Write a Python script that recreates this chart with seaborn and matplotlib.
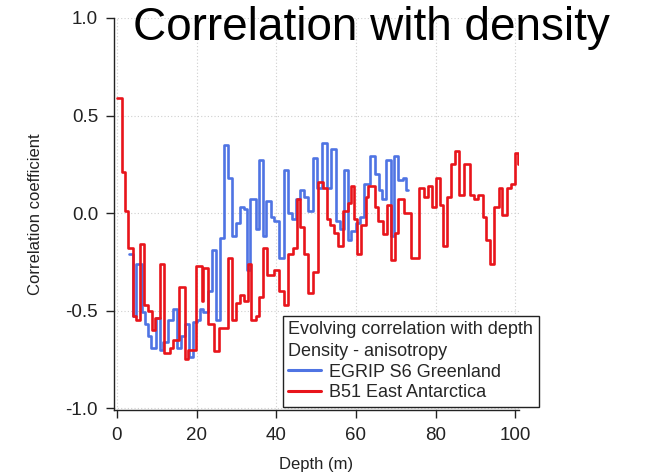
import numpy as np
import pandas as pd
import matplotlib
matplotlib.use("Agg")
import matplotlib.pyplot as plt
import seaborn as sns

# ---- data ----
egrip_depth = [3.1, 4.1, 4.9, 6.2, 7.0, 7.9, 8.7, 9.9, 10.8, 11.6, 12.9, 14.1, 15.0, 16.2,
               17.0, 18.1, 19.0, 20.0, 20.8, 21.6, 22.9, 23.9, 24.9, 26.0, 26.8, 28.0,
               28.9, 29.8, 30.8, 31.9, 32.6, 33.4, 34.9, 35.7, 36.8, 37.5, 38.7, 39.5,
               40.8, 41.9, 43.0, 43.9, 44.9, 45.9, 47.0, 48.0, 49.1, 50.2, 51.6, 52.8,
               53.8, 54.9, 55.9, 56.9, 58.0, 58.8, 60.1, 60.9, 61.9, 63.4, 64.7, 65.7,
               66.6, 67.6, 68.7, 69.6, 70.6, 71.8, 72.6, 73.0]
egrip_corr = [-0.21, -0.53, -0.26, -0.51, -0.57, -0.63, -0.69, -0.54, -0.70, -0.66, -0.55,
              -0.49, -0.69, -0.63, -0.57, -0.74, -0.56, -0.55, -0.49, -0.51, -0.40, -0.19,
              -0.55, -0.13, 0.35, 0.18, -0.12, -0.05, 0.03, 0.02, -0.29, 0.07, -0.08,
              0.27, -0.12, 0.06, -0.02, -0.04, -0.23, 0.22, 0.00, -0.03, 0.07, 0.12, 0.08,
              0.01, 0.28, 0.13, 0.36, 0.13, 0.33, -0.04, -0.08, 0.22, -0.14, -0.09, -0.05,
              -0.02, 0.15, 0.29, 0.20, 0.12, 0.07, 0.27, -0.12, 0.29, 0.17, 0.18, 0.12, 0.12]

b51_depth = [0.0, 1.3, 2.0, 2.8, 4.0, 4.8, 5.9, 6.9, 7.8, 8.9, 9.7, 10.8, 11.8, 13.4, 14.0,
             15.7, 17.1, 17.9, 19.8, 21.3, 21.7, 22.8, 24.3, 25.6, 27.9, 29.0, 29.8, 30.8,
             31.9, 32.8, 33.6, 34.9, 35.7, 36.7, 37.6, 39.5, 40.8, 41.9, 43.0, 44.1, 45.2,
             46.0, 47.0, 48.0, 49.1, 50.4, 51.8, 52.7, 53.6, 54.5, 55.4, 56.7, 57.9, 58.7,
             59.4, 60.2, 61.3, 62.4, 63.1, 64.8, 65.6, 66.7, 67.7, 68.8, 69.9, 70.6, 72.1,
             73.7, 75.8, 77.1, 78.0, 79.1, 80.0, 81.0, 81.8, 82.9, 83.8, 84.8, 85.8, 87.2,
             88.5, 89.5, 90.6, 91.8, 92.7, 93.6, 94.7, 95.8, 96.7, 97.9, 98.9, 99.8, 100.6,
             101.1]
b51_corr = [0.59, 0.21, 0.01, -0.18, -0.53, -0.55, -0.16, -0.47, -0.50, -0.60, -0.54, -0.26,
            -0.72, -0.69, -0.65, -0.38, -0.75, -0.70, -0.27, -0.45, -0.28, -0.57, -0.71,
            -0.59, -0.23, -0.55, -0.46, -0.42, -0.45, -0.26, -0.55, -0.53, -0.43, -0.18,
            -0.32, -0.29, -0.40, -0.47, -0.21, -0.18, 0.07, -0.07, -0.21, -0.41, -0.30,
            0.16, 0.13, -0.03, -0.06, -0.10, -0.17, 0.01, 0.05, 0.14, -0.03, -0.21, -0.06,
            0.08, 0.14, 0.03, -0.04, -0.11, 0.04, -0.24, -0.10, 0.07, 0.00, -0.23, 0.13,
            0.08, 0.14, 0.03, 0.18, 0.04, -0.17, 0.08, 0.25, 0.32, 0.09, 0.25, 0.09, 0.07,
            0.09, -0.02, -0.14, -0.26, 0.03, 0.13, -0.01, 0.13, 0.15, 0.31, 0.25, 0.25]

series_names = ["EGRIP S6 Greenland", "B51 East Antarctica"]
series_colors = ["#4f74e3", "#e8141b"]
x_ticks = [0, 20, 40, 60, 80, 100]
y_ticks = [-1.0, -0.5, 0.0, 0.5, 1.0]
y_tick_labels = ["-1.0", "-0.5", "0.0", "0.5", "1.0"]

df = pd.concat([
    pd.DataFrame({"depth": egrip_depth, "corr": egrip_corr, "core": series_names[0]}),
    pd.DataFrame({"depth": b51_depth, "corr": b51_corr, "core": series_names[1]}),
], ignore_index=True)

sns.set_theme(style="white")
plt.rcParams["font.family"] = ["Liberation Sans", "DejaVu Sans"]

fig = plt.figure(figsize=(6.46, 4.72), dpi=100)
ax = fig.add_axes([114 / 646, 1 - 410 / 472, (519 - 114) / 646, (410 - 18) / 472])

sns.lineplot(data=df, x="depth", y="corr", hue="core", hue_order=series_names,
             palette=dict(zip(series_names, series_colors)), estimator=None,
             drawstyle="steps-post", linewidth=1.9, legend=False, ax=ax, sort=False)

ax.set_xlim(-0.7, 100.9)
ax.set_ylim(-1.01, 1.0)
ax.set_xticks(x_ticks)
ax.set_yticks(y_ticks)
ax.set_yticklabels(y_tick_labels)
ax.grid(True, color="#cfcfcf", linestyle=(0, (1, 2)), linewidth=0.8)
for s in ["top", "right"]:
    ax.spines[s].set_visible(False)
for s in ["left", "bottom"]:
    ax.spines[s].set_color("#222222")
    ax.spines[s].set_linewidth(1.0)
ax.tick_params(axis="both", direction="out", length=5.5, width=1.0, color="#222222",
               labelsize=13.5, labelcolor="#222222", left=True, bottom=True)
ax.tick_params(axis="x", pad=7)
ax.tick_params(axis="y", pad=6)
ax.set_xlabel("Depth (m)", fontsize=12, color="#222222", labelpad=9)
ax.set_ylabel("Correlation coefficient", fontsize=12, color="#222222", labelpad=16)

handles = [plt.Line2D([], [], color=c, linewidth=2.2) for c in series_colors]
leg = fig.legend(handles, series_names,
                 title="Evolving correlation with depth\nDensity - anisotropy",
                 loc="upper left", bbox_to_anchor=(283 / 646, 1 - 316 / 472),
                 bbox_transform=fig.transFigure, fontsize=13, title_fontsize=13,
                 alignment="left", frameon=True, fancybox=False, framealpha=1,
                 edgecolor="#222222", borderpad=0.3, labelspacing=0.2,
                 handlelength=1.8, handletextpad=0.45, borderaxespad=0)
leg.get_title().set_linespacing(1.35)
leg.get_frame().set_linewidth(1.0)

fig.text(133 / 646, 1 - 6 / 472, "Correlation with density", fontsize=33,
         ha="left", va="top", color="black")

fig.savefig("out.png", dpi=100)
